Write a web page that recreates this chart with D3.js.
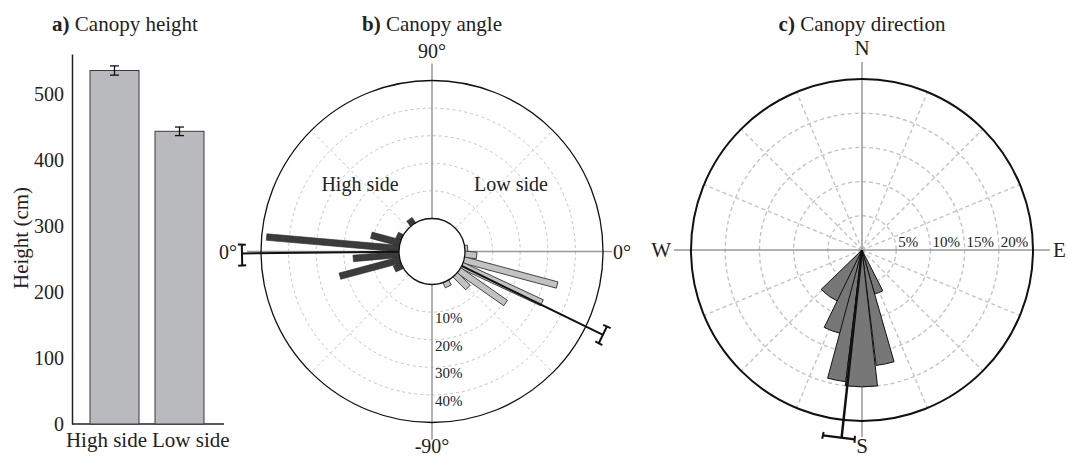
<!DOCTYPE html>
<html><head><meta charset="utf-8">
<script src="https://cdn.jsdelivr.net/npm/d3@7"></script>
<style>body{margin:0;background:#fff}svg{display:block}</style>
</head><body><svg id="c" width="1068" height="459"></svg>
<script>
// ---------- Data ----------
// a) Canopy height
const heightCats = ["High side", "Low side"];
const heightMeans = [535, 443];
const heightErr = [7, 6.5];
const heightTicks = [0, 100, 200, 300, 400, 500];

// b) Canopy angle (deg, 0 = horizontal, + = upward), % of canopies
const highAngles = [55, 25, 15, 5, -5, -15, -25];
const highPct = [2.3, 2.0, 10.8, 48.2, 16.7, 22.6, 3.0];
const lowAngles = [5, -5, -15, -25, -35, -45, -65];
const lowPct = [1.0, 4.3, 35.0, 32.0, 20.6, 6.5, 2.0];
const angleRings = [10, 20, 30, 40];
const angleRingLabels = ["10%", "20%", "30%", "40%"];
const meanAngle = [-0.6, -26];
const meanAngleLo = [-4.2, -28.8];
const meanAngleHi = [2.1, -23.2];
const meanAngleLen = [57, 57];

// c) Canopy direction (compass bearing, deg), % of canopies
const dirStart = [204, 194, 187, 153, 164, 173.5];
const dirEnd = [226, 206, 195, 164, 173, 187];
const dirPct = [8.3, 12.6, 19.4, 6.7, 17.0, 20.0];
const dirRings = [5, 10, 15, 20];
const dirRingLabels = ["5%", "10%", "15%", "20%"];
const meanDir = 186.2, meanDirLo = 182.2, meanDirHi = 191.9, meanDirLen = 27.7;

// ---------- Setup ----------
const svg = d3.select("#c");
const FONT = "'Liberation Serif','Times New Roman',serif";
const TXT = "#222";
const rad = d => d * Math.PI / 180;

function title(x, letter, rest) {
  const t = svg.append("text").attr("x", x).attr("y", 31).attr("text-anchor", "middle")
    .attr("font-family", FONT).attr("font-size", 21).attr("fill", TXT);
  t.append("tspan").attr("font-weight", "bold").text(letter);
  t.append("tspan").text(" " + rest);
}

// ---------- Panel a ----------
{
  const y = d3.scaleLinear().domain([0, 560]).range([424, 54]);
  const x = d3.scaleBand().domain(heightCats).range([72, 222]).paddingInner(16 / 65).paddingOuter(0.277);
  const g = svg.append("g");
  const yAxis = g.append("g").attr("transform", "translate(72,0)")
    .call(d3.axisLeft(y).tickValues(heightTicks).tickSize(0).tickPadding(8).tickSizeOuter(0));
  yAxis.select(".domain").attr("stroke", "#222").attr("stroke-width", 1.5);
  yAxis.selectAll("text").attr("font-family", FONT).attr("font-size", 20).attr("fill", TXT);
  g.append("line").attr("x1", 72).attr("x2", 224).attr("y1", y(0)).attr("y2", y(0))
    .attr("stroke", "#222").attr("stroke-width", 1.5);
  g.selectAll("rect.bar").data(heightCats).join("rect")
    .attr("x", d => x(d)).attr("width", x.bandwidth())
    .attr("y", (d, i) => y(heightMeans[i])).attr("height", (d, i) => y(0) - y(heightMeans[i]))
    .attr("fill", "#b9babd").attr("stroke", "#3a3a3a").attr("stroke-width", 1);
  heightCats.forEach((c, i) => {
    const cx = x(c) + x.bandwidth() / 2;
    const y0 = y(heightMeans[i] - heightErr[i]), y1 = y(heightMeans[i] + heightErr[i]);
    g.append("line").attr("x1", cx).attr("x2", cx).attr("y1", y0).attr("y2", y1).attr("stroke", "#111").attr("stroke-width", 1.3);
    [y0, y1].forEach(yy => g.append("line").attr("x1", cx - 4.5).attr("x2", cx + 4.5).attr("y1", yy).attr("y2", yy).attr("stroke", "#111").attr("stroke-width", 1.3));
  });
  const mid = (x(heightCats[0]) + x(heightCats[1]) + x.bandwidth()) / 2;
  heightCats.forEach((c, i) => {
    g.append("text").attr("x", i === 0 ? mid : mid + 5).attr("y", 447)
      .attr("text-anchor", i === 0 ? "end" : "start")
      .attr("font-family", FONT).attr("font-size", 21).attr("fill", TXT).text(c);
  });
  g.append("text").attr("transform", "translate(28,238) rotate(-90)").attr("text-anchor", "middle")
    .attr("font-family", FONT).attr("font-size", 21).attr("fill", TXT).text("Height (cm)");
  title(125, "a)", "Canopy height");
}

// ---------- Panel b ----------
{
  const cx = 432, cy = 251.5;
  const r = d3.scaleLinear().domain([0, 50]).range([33, 171]);
  const g = svg.append("g");
  const pt = (side, a, rr) => [cx + (side === "low" ? 1 : -1) * rr * Math.cos(rad(a)), cy - rr * Math.sin(rad(a))];
  g.selectAll("circle.ring").data(angleRings).join("circle")
    .attr("cx", cx).attr("cy", cy).attr("r", d => r(d))
    .attr("fill", "none").attr("stroke", "#c4c4c4").attr("stroke-width", 1).attr("stroke-dasharray", "3,3");
  [45, -45].forEach(a => ["low", "high"].forEach(s => {
    const p0 = pt(s, a, r(0)), p1 = pt(s, a, r(50));
    g.append("line").attr("x1", p0[0]).attr("y1", p0[1]).attr("x2", p1[0]).attr("y2", p1[1])
      .attr("stroke", "#c4c4c4").attr("stroke-width", 1).attr("stroke-dasharray", "3,3");
  }));
  g.append("line").attr("x1", cx).attr("x2", cx).attr("y1", cy - 188).attr("y2", cy + 188).attr("stroke", "#999").attr("stroke-width", 1.5);
  g.append("line").attr("x1", cx - 185).attr("x2", cx + 180).attr("y1", cy).attr("y2", cy).attr("stroke", "#999").attr("stroke-width", 1.5);
  g.append("circle").attr("cx", cx).attr("cy", cy).attr("r", r(50)).attr("fill", "none").attr("stroke", "#111").attr("stroke-width", 1.3);
  function barPath(side, a, v, w) {
    const p0 = pt(side, a, 26), p1 = pt(side, a, r(v));
    const ux = (p1[0] - p0[0]), uy = (p1[1] - p0[1]);
    const L = Math.hypot(ux, uy), nx = -uy / L * w / 2, ny = ux / L * w / 2;
    return `M${p0[0] + nx},${p0[1] + ny}L${p1[0] + nx},${p1[1] + ny}L${p1[0] - nx},${p1[1] - ny}L${p0[0] - nx},${p0[1] - ny}Z`;
  }
  highAngles.forEach((a, i) => g.append("path").attr("d", barPath("high", a, highPct[i], 6.5))
    .attr("fill", "#3b3b3b").attr("stroke", "#2a2a2a").attr("stroke-width", 0.6));
  lowAngles.forEach((a, i) => g.append("path").attr("d", barPath("low", a, lowPct[i], 6.5))
    .attr("fill", "#c2c2c2").attr("stroke", "#333").attr("stroke-width", 0.9));
  g.append("circle").attr("cx", cx).attr("cy", cy).attr("r", r(0)).attr("fill", "#fff").attr("stroke", "#111").attr("stroke-width", 1.3);
  ["high", "low"].forEach((s, i) => {
    const p0 = pt(s, meanAngle[i], r(0)), p1 = pt(s, meanAngle[i], r(meanAngleLen[i]));
    g.append("line").attr("x1", p0[0]).attr("y1", p0[1]).attr("x2", p1[0]).attr("y2", p1[1]).attr("stroke", "#111").attr("stroke-width", 2);
    const R = r(meanAngleLen[i]);
    const e0 = pt(s, meanAngleLo[i], R), e1 = pt(s, meanAngleHi[i], R);
    g.append("line").attr("x1", e0[0]).attr("y1", e0[1]).attr("x2", e1[0]).attr("y2", e1[1]).attr("stroke", "#111").attr("stroke-width", 2);
    [meanAngleLo[i], meanAngleHi[i]].forEach(a => {
      const c0 = pt(s, a, R - 4), c1 = pt(s, a, R + 4);
      g.append("line").attr("x1", c0[0]).attr("y1", c0[1]).attr("x2", c1[0]).attr("y2", c1[1]).attr("stroke", "#111").attr("stroke-width", 2);
    });
  });
  const lab = (x, y, t, anchor, size) => g.append("text").attr("x", x).attr("y", y).attr("text-anchor", anchor)
    .attr("font-family", FONT).attr("font-size", size).attr("fill", TXT).text(t);
  angleRings.forEach((v, i) => lab(cx + 3, cy + r(v) + 11, angleRingLabels[i], "start", 15));
  lab(cx, 58, "90°", "middle", 20);
  lab(cx, 453, "-90°", "middle", 20);
  lab(cx - 195, cy + 7, "0°", "end", 20);
  lab(cx + 181, cy + 7, "0°", "start", 20);
  lab(360, 191, "High side", "middle", 20);
  lab(511, 191, "Low side", "middle", 20);
  title(cx, "b)", "Canopy angle");
}

// ---------- Panel c ----------
{
  const cx = 862, cy = 250;
  const r = d3.scaleLinear().domain([0, 25]).range([0, 171]);
  const g = svg.append("g");
  const pt = (b, rr) => [cx + rr * Math.sin(rad(b)), cy - rr * Math.cos(rad(b))];
  g.selectAll("circle.ring").data(dirRings).join("circle")
    .attr("cx", cx).attr("cy", cy).attr("r", d => r(d))
    .attr("fill", "none").attr("stroke", "#c4c4c4").attr("stroke-width", 1.4).attr("stroke-dasharray", "4,3");
  d3.range(0, 360, 22.5).filter(b => b % 90 !== 0).forEach(b => {
    const p1 = pt(b, r(25));
    g.append("line").attr("x1", cx).attr("y1", cy).attr("x2", p1[0]).attr("y2", p1[1])
      .attr("stroke", "#c4c4c4").attr("stroke-width", 1.4).attr("stroke-dasharray", "4,3");
  });
  g.append("line").attr("x1", cx).attr("x2", cx).attr("y1", cy - 188).attr("y2", cy + 187).attr("stroke", "#999").attr("stroke-width", 1.5);
  g.append("line").attr("x1", cx - 188).attr("x2", cx + 188).attr("y1", cy).attr("y2", cy).attr("stroke", "#999").attr("stroke-width", 1.5);
  g.append("circle").attr("cx", cx).attr("cy", cy).attr("r", r(25)).attr("fill", "none").attr("stroke", "#111").attr("stroke-width", 2);
  const arc = d3.arc().innerRadius(0);
  dirPct.forEach((v, i) => g.append("path")
    .attr("transform", `translate(${cx},${cy})`)
    .attr("d", arc({ outerRadius: r(v), startAngle: rad(dirStart[i]), endAngle: rad(dirEnd[i]) }))
    .attr("fill", "#777").attr("stroke", "#111").attr("stroke-width", 1).attr("stroke-linejoin", "round"));
  const R = r(meanDirLen);
  const m1 = pt(meanDir, R);
  g.append("line").attr("x1", cx).attr("y1", cy).attr("x2", m1[0]).attr("y2", m1[1]).attr("stroke", "#111").attr("stroke-width", 2.5);
  const e0 = pt(meanDirLo, R), e1 = pt(meanDirHi, R);
  g.append("line").attr("x1", e0[0]).attr("y1", e0[1]).attr("x2", e1[0]).attr("y2", e1[1]).attr("stroke", "#111").attr("stroke-width", 2.2);
  [meanDirLo, meanDirHi].forEach(b => {
    const c0 = pt(b, R - 3.5), c1 = pt(b, R + 3.5);
    g.append("line").attr("x1", c0[0]).attr("y1", c0[1]).attr("x2", c1[0]).attr("y2", c1[1]).attr("stroke", "#111").attr("stroke-width", 2);
  });
  const lab = (x, y, t, anchor, size) => g.append("text").attr("x", x).attr("y", y).attr("text-anchor", anchor)
    .attr("font-family", FONT).attr("font-size", size).attr("fill", TXT).text(t);
  dirRings.forEach((v, i) => lab(cx + r(v) + 2, cy - 3, dirRingLabels[i], "start", 15));
  lab(cx, 55, "N", "middle", 21);
  lab(cx, 453, "S", "middle", 21);
  lab(cx - 191, cy + 7, "W", "end", 21);
  lab(cx + 191, cy + 7, "E", "start", 21);
  title(cx, "c)", "Canopy direction");
}
</script></body></html>
